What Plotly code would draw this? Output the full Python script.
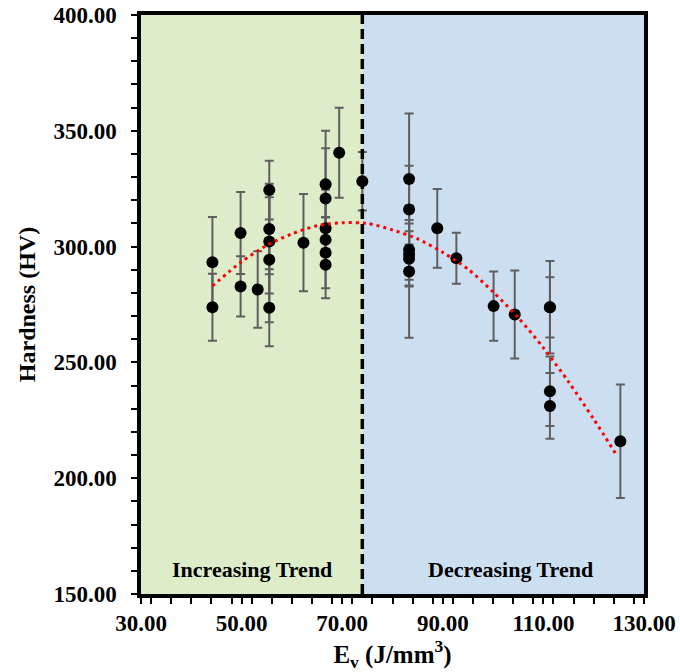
import plotly.graph_objects as go

# Data
energy = [44.2, 44.2, 49.8, 49.8, 53.2, 55.5, 55.5, 55.5, 55.5, 55.5,
          62.3, 66.7, 66.7, 66.7, 66.7, 66.7, 66.7, 69.4, 74.0,
          83.3, 83.3, 83.3, 83.3, 83.3, 83.3, 88.9, 92.7, 100.1, 104.3,
          111.3, 111.3, 111.3, 111.3, 125.3]
hardness = [293.2, 273.8, 305.9, 282.8, 281.5, 324.4, 307.6, 302.2, 294.3, 273.6,
            301.7, 326.9, 320.8, 307.9, 303.0, 297.3, 292.2, 340.5, 328.2,
            329.2, 316.0, 298.6, 296.6, 294.7, 289.2, 307.9, 295.0, 274.3, 270.7,
            273.8, 273.8, 237.5, 231.2, 216.0]
hardness_err = [19.6, 14.5, 17.7, 13.0, 16.5, 12.7, 19.5, 22.5, 27.0, 16.6,
                21.0, 23.1, 21.7, 16.7, 9.8, 15.3, 14.5, 19.4, 12.6,
                28.3, 18.9, 12.9, 13.4, 11.9, 28.6, 17.0, 11.0, 14.9, 19.0,
                20.0, 13.0, 15.0, 14.2, 24.5]

# Polynomial trendline values
trend_x = [44.2, 50, 55, 60, 65, 70, 75, 80, 85, 90, 95, 100, 105, 110, 115, 120, 124.6]
trend_y = [283.0, 293.5, 300.5, 305.5, 309.0, 310.3, 310.0, 307.2, 303.3, 297.5,
           290.3, 280.4, 269.3, 256.3, 241.6, 225.5, 209.8]

split_x = 74.0
x_range = [30, 130]
y_range = [150, 400]
region_labels = ["Increasing Trend", "Decreasing Trend"]
region_label_x = [52, 103.4]
region_label_y = 160.5

FONT = "Liberation Serif"

fig = go.Figure()

# shaded regions
fig.add_shape(type="rect", xref="x", yref="y", x0=x_range[0], x1=split_x,
              y0=y_range[0], y1=y_range[1], fillcolor="#DDEDCA", line_width=0, layer="below")
fig.add_shape(type="rect", xref="x", yref="y", x0=split_x, x1=x_range[1],
              y0=y_range[0], y1=y_range[1], fillcolor="#CCDFF0", line_width=0, layer="below")

fig.add_trace(go.Scatter(
    x=energy, y=hardness, mode="markers",
    marker=dict(color="black", size=12),
    error_y=dict(type="data", array=hardness_err, visible=True,
                 color="#5f5f5f", thickness=2, width=4.5),
    showlegend=False,
))

fig.add_trace(go.Scatter(
    x=trend_x, y=trend_y, mode="lines", line_shape="spline",
    line=dict(color="#FF0000", width=3, dash="3px,4px", smoothing=0.8),
    showlegend=False,
))

# dashed divider
fig.add_shape(type="line", xref="x", yref="y", x0=split_x, x1=split_x,
              y0=y_range[0], y1=y_range[1],
              line=dict(color="black", width=3.5, dash="10px,5px"), layer="above")

for txt, xx in zip(region_labels, region_label_x):
    fig.add_annotation(x=xx, y=region_label_y, xref="x", yref="y", text=txt,
                       showarrow=False,
                       font=dict(family=FONT, size=22, color="black", weight="bold"))

axis_common = dict(
    showline=True, linecolor="black", linewidth=3.5, mirror=True,
    ticks="outside", ticklen=6, tickwidth=1.5, tickcolor="black",
    showgrid=False, zeroline=False, tickformat=".2f", automargin=False,
    tickfont=dict(family=FONT, size=23, color="black", weight="bold"),
)

fig.update_xaxes(range=x_range, dtick=20, tick0=30,
                 minor=dict(dtick=4, ticks="outside", ticklen=6, tickwidth=1.5, tickcolor="black"),
                 title=dict(text="E<sub>v</sub> (J/mm<sup>3</sup>)", standoff=8,
                            font=dict(family=FONT, size=25, color="black", weight="bold")),
                 **axis_common)
fig.update_yaxes(range=y_range, dtick=50, ticklabelstandoff=10,
                 minor=dict(dtick=10, ticks="outside", ticklen=6, tickwidth=1.5, tickcolor="black"),
                 title=dict(text="Hardness (HV)", standoff=12,
                            font=dict(family=FONT, size=24, color="black", weight="bold")),
                 **axis_common)

fig.update_layout(
    width=680, height=672,
    margin=dict(l=141, r=36, t=15, b=78),
    plot_bgcolor="white", paper_bgcolor="white",
)

fig.write_html("out.html", config={"displayModeBar": False},
               post_script="document.body.style.margin='0';")
